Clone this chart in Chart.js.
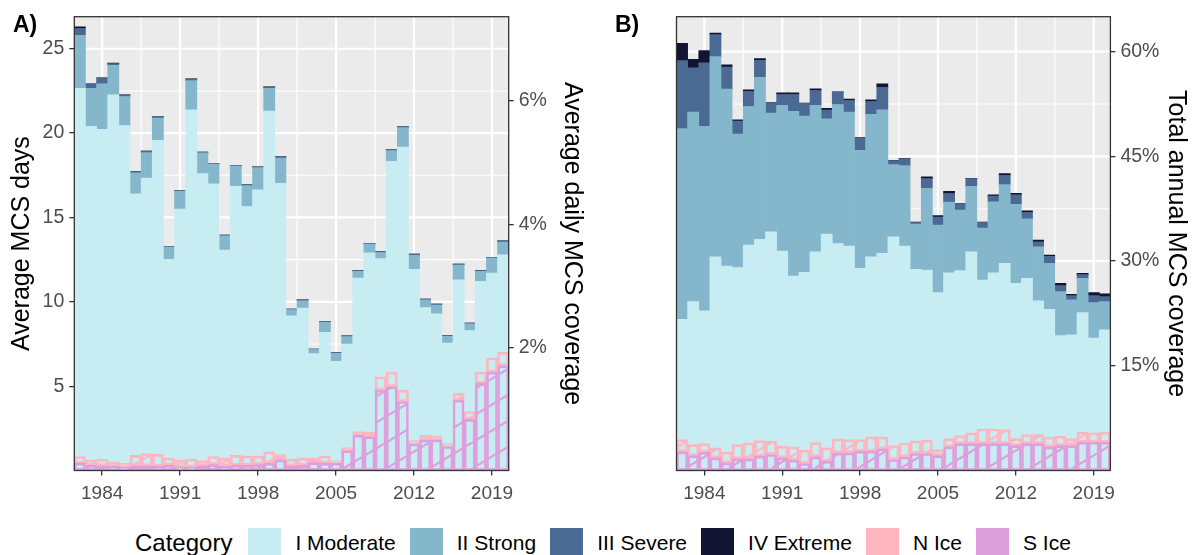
<!DOCTYPE html>
<html>
<head>
<meta charset="utf-8">
<script src="https://cdn.jsdelivr.net/npm/chart.js@4.4.0/dist/chart.umd.min.js"></script>
<style>
  body { margin:0; background:#fff; width:1193px; height:555px; overflow:hidden; position:relative;
         font-family:"Liberation Sans", Arial, sans-serif; }
  canvas { position:absolute; top:0; }
  #chartA { left:0; }
  #chartB { left:600px; }
  .tag { position:absolute; top:13px; font-weight:bold; font-size:23px; line-height:1; color:#000; }
  #legend { position:absolute; left:135px; top:528px; height:29px; display:flex; align-items:center; font-size:21px; color:#000; }
  #legend .ttl { font-size:24px; margin-right:16px; }
  #legend .key { width:33px; height:29px; margin-right:14px; }
  #legend .lab { margin-right:14px; }
</style>
</head>
<body>
<canvas id="chartA" width="600" height="500"></canvas>
<canvas id="chartB" width="593" height="500"></canvas>
<div class="tag" style="left:13px">A)</div>
<div class="tag" style="left:615px">B)</div>
<div id="legend"></div>
<script>
// ---- data ----
const years = [1982,1983,1984,1985,1986,1987,1988,1989,1990,1991,1992,1993,1994,1995,1996,1997,1998,1999,2000,
  2001,2002,2003,2004,2005,2006,2007,2008,2009,2010,2011,2012,2013,2014,2015,2016,2017,2018,2019,2020];
const tickYears = [1984, 1991, 1998, 2005, 2012, 2019];
const daysTicks = [5, 10, 15, 20, 25];
const coverTicksA = [2, 4, 6];
const pctTicksB = [15, 30, 45, 60];

// panel A: average MCS days
const moderateDays = [22.66,20.40,20.22,22.27,20.45,16.40,17.34,19.57,12.52,15.49,21.38,17.60,16.99,13.07,16.85,15.65,16.63,21.30,17.03,
  9.17,9.63,6.93,8.19,6.47,7.50,11.40,12.91,12.56,18.33,19.17,11.93,9.66,9.29,7.56,11.30,8.30,11.22,11.70,12.79];
const strongDays = [3.14,2.26,2.70,1.75,1.72,1.24,1.50,1.32,0.72,1.06,1.73,1.23,1.17,0.84,1.19,1.24,1.32,1.36,1.49,
  0.37,0.43,0.24,0.60,0.48,0.44,0.40,0.51,0.36,0.63,1.15,0.82,0.45,0.52,0.40,0.88,0.39,0.58,0.89,0.75];
const severeDays = [0.40,0.26,0.35,0.10,0.10,0.08,0.10,0.10,0.05,0.05,0.10,0.05,0.05,0.05,0.05,0.08,0.05,0.08,0.10,
  0.03,0.05,0.03,0.05,0.05,0.05,0.05,0.05,0.05,0.08,0.08,0.08,0.05,0.05,0.05,0.05,0.05,0.05,0.05,0.08];
const extremeDays = [0.10,0,0,0.03,0,0,0,0,0,0,0,0,0,0,0,0,0,0,0,
  0,0,0,0,0,0,0,0,0,0,0,0,0,0,0,0,0,0,0,0];
const sIceDays = [0.43,0.31,0.27,0.24,0.20,0.27,0.27,0.24,0.31,0.20,0.20,0.27,0.35,0.24,0.31,0.31,0.35,0.43,0.63,
  0.27,0.31,0.47,0.43,0.43,1.18,2.09,2.00,4.76,4.96,4.09,1.57,1.81,1.81,1.42,4.17,3.03,5.16,5.83,6.22];
const nIceDays = [0.40,0.32,0.40,0.27,0.23,0.63,0.73,0.72,0.43,0.43,0.47,0.32,0.48,0.49,0.59,0.55,0.50,0.67,0.31,
  0.40,0.42,0.26,0.43,0.14,0.18,0.21,0.28,0.79,0.87,0.67,0.20,0.28,0.24,0.19,0.40,0.47,0.67,0.84,0.78];

// panel B: total annual MCS coverage (%)
const moderatePct = [21.67,24.19,22.86,30.62,29.29,29.05,32.29,33.10,34.19,31.43,27.86,28.38,31.33,33.86,32.52,32.14,28.95,30.62,31.10,
  33.48,32.14,28.81,28.71,25.48,28.33,28.62,31.33,27.29,28.33,29.67,26.81,27.52,24.29,23.10,19.33,19.43,22.62,18.95,20.14];
const strongPct = [27.29,27.14,26.43,28.67,25.33,19.14,19.85,23.23,17.00,20.86,23.57,22.38,20.96,16.52,19.91,19.19,16.91,20.38,20.57,
  10.33,11.53,6.48,11.72,9.66,10.10,8.67,9.38,7.42,10.15,11.28,11.33,8.53,7.76,6.57,6.29,5.00,4.90,5.10,4.05];
const severePct = [9.74,6.34,9.09,3.14,3.18,1.86,2.15,2.43,1.47,1.57,2.43,1.81,2.14,1.24,1.76,1.67,1.76,1.86,3.23,
  0.57,0.99,0.23,1.38,1.15,1.24,0.90,1.10,0.81,0.81,1.34,1.34,0.90,0.71,1.00,0.86,0.62,0.53,1.00,0.71];
const extremePct = [2.50,1.23,1.76,0.24,0.30,0.19,0.23,0.24,0.05,0.24,0.24,0.05,0.24,0.24,0.05,0.19,0.05,0.24,0.48,
  0.05,0.05,0.05,0.24,0.23,0.33,0.05,0.05,0.05,0.19,0.23,0.23,0.24,0.24,0.19,0.33,0.19,0.19,0.43,0.39];
const sIcePct = [2.67,2.14,2.62,1.81,1.10,1.67,1.67,2.05,2.29,1.81,1.48,1.00,1.95,1.33,2.52,2.52,2.76,2.76,3.10,
  1.57,1.95,2.43,2.43,2.14,3.38,3.86,3.86,3.86,3.86,3.86,3.57,3.86,3.86,3.38,3.57,3.57,4.05,4.05,4.05];
const nIcePct = [1.76,1.57,1.24,1.43,1.52,2.04,2.28,2.24,1.90,1.67,1.90,1.90,2.05,1.91,2.00,1.91,1.67,2.05,1.71,
  2.00,2.00,1.81,1.90,0.86,1.19,1.14,1.52,2.09,2.09,2.00,1.00,1.28,1.28,1.38,1.33,1.00,1.43,1.33,1.43];

const categories = ["I Moderate", "II Strong", "III Severe", "IV Extreme", "N Ice", "S Ice"];
const catColors = ["#C7ECF2", "#85B7CC", "#4A6A94", "#111433", "#FFB6C1", "#DDA0DD"];

// ---- helpers ----
const tickGrey = "#4D4D4D";
const frame = "#333333";

// diagonal stripe fill like ggpattern
function stripes(color) {
  const w = 43, h = 26;
  const c = document.createElement("canvas");
  c.width = w; c.height = h;
  const g = c.getContext("2d");
  g.strokeStyle = color;
  g.lineWidth = 2.2;
  for (const dx of [-w, 0, w]) {
    g.beginPath();
    g.moveTo(dx, h);
    g.lineTo(dx + w, 0);
    g.stroke();
  }
  return g.createPattern(c, "repeat");
}

// grey panel, white major/minor grid, dark frame
const panelGrid = {
  id: "panelGrid",
  beforeDraw(chart, args, opts) {
    const { ctx, chartArea: a, scales } = chart;
    const xs = scales.x, ys = scales[opts.yId];
    ctx.save();
    ctx.fillStyle = "#EBEBEB";
    ctx.fillRect(a.left, a.top, a.width, a.height);
    ctx.strokeStyle = "#FFFFFF";
    const xMaj = tickYears.map(yr => xs.getPixelForValue(years.indexOf(yr)));
    const xMin = [];
    for (let i = 0; i < xMaj.length - 1; i++) xMin.push((xMaj[i] + xMaj[i + 1]) / 2);
    const step = opts.yMajor[1] - opts.yMajor[0];
    const yMin = opts.yMajor.map(v => v - step / 2).concat([opts.yMajor[opts.yMajor.length - 1] + step / 2])
      .filter(v => v > ys.min && v < ys.max);
    const vline = (p) => { ctx.beginPath(); ctx.moveTo(p, a.top); ctx.lineTo(p, a.bottom); ctx.stroke(); };
    const hline = (v) => { const p = ys.getPixelForValue(v); ctx.beginPath(); ctx.moveTo(a.left, p); ctx.lineTo(a.right, p); ctx.stroke(); };
    ctx.lineWidth = 1.1;
    xMin.forEach(vline);
    yMin.forEach(hline);
    ctx.lineWidth = 2.2;
    xMaj.forEach(vline);
    opts.yMajor.forEach(hline);
    ctx.restore();
  },
  afterDraw(chart) {
    const { ctx, chartArea: a } = chart;
    ctx.save();
    ctx.strokeStyle = frame;
    ctx.lineWidth = 1.3;
    ctx.strokeRect(a.left, a.top, a.width, a.height);
    ctx.restore();
  }
};

function barSets(mod, str, sev, ext, nIce, sIce) {
  const base = { grouped: false, barPercentage: 1, categoryPercentage: 1, borderWidth: 0 };
  return [
    Object.assign({ label: "S Ice", data: sIce, stack: "ice", order: 0, backgroundColor: stripes(catColors[5]),
      borderColor: catColors[5] }, base, { borderWidth: 2, borderSkipped: false }),
    Object.assign({ label: "N Ice", data: nIce, stack: "ice", order: 1, backgroundColor: stripes(catColors[4]),
      borderColor: catColors[4] }, base, { borderWidth: 2, borderSkipped: false }),
    Object.assign({ label: "I Moderate", data: mod, stack: "mcs", order: 2, backgroundColor: catColors[0] }, base),
    Object.assign({ label: "II Strong", data: str, stack: "mcs", order: 3, backgroundColor: catColors[1] }, base),
    Object.assign({ label: "III Severe", data: sev, stack: "mcs", order: 4, backgroundColor: catColors[2] }, base),
    Object.assign({ label: "IV Extreme", data: ext, stack: "mcs", order: 5, backgroundColor: catColors[3] }, base)
  ];
}

const xAxis = {
  type: "category",
  offset: true,
  grid: { offset: false, drawOnChartArea: false, color: frame, tickLength: 5, lineWidth: 1.3 },
  border: { display: false },
  ticks: {
    autoSkip: false, maxRotation: 0, minRotation: 0, color: tickGrey, font: { size: 19 }, padding: 7,
    callback: (v, i) => tickYears.includes(years[i]) ? String(years[i]) : null
  },
  afterFit: (s) => { s.height = 29.5; }
};

function yAxis(pos, max, step, list, suffix, title, titlePad, width, stacked) {
  return {
    type: "linear", position: pos, min: 0, max: max, stacked: stacked,
    grid: { drawOnChartArea: false, color: frame, tickLength: 5, lineWidth: 1.3 },
    border: { display: false },
    ticks: {
      stepSize: step, includeBounds: false, color: tickGrey, font: { size: 19.5 }, padding: 5,
      callback: (v) => list.includes(v) ? v + suffix : null
    },
    title: { display: true, text: title, color: "#000", font: { size: 25 }, padding: { top: titlePad, bottom: 0 } },
    afterFit: (s) => { s.width = width; }
  };
}

Chart.defaults.font.family = '"Liberation Sans", Arial, sans-serif';

const daysMax = 26.9;
new Chart(document.getElementById("chartA"), {
  type: "bar",
  data: { labels: years.map(String), datasets: barSets(moderateDays, strongDays, severeDays, extremeDays, nIceDays, sIceDays) },
  options: {
    responsive: false, animation: false, devicePixelRatio: 1,
    layout: { padding: { top: 16.5, left: 0, right: 0, bottom: 0 } },
    plugins: { legend: { display: false }, tooltip: { enabled: false }, panelGrid: { yId: "y", yMajor: daysTicks } },
    scales: {
      x: xAxis,
      y: yAxis("left", daysMax, 5, daysTicks, "", "Average MCS days", 7, 74.3, true),
      y2: yAxis("right", daysMax / 3.65, 2, coverTicksA, "%", "Average daily MCS coverage", 13, 91.3, false)
    }
  },
  plugins: [panelGrid]
});

new Chart(document.getElementById("chartB"), {
  type: "bar",
  data: { labels: years.map(String), datasets: barSets(moderatePct, strongPct, severePct, extremePct, nIcePct, sIcePct) },
  options: {
    responsive: false, animation: false, devicePixelRatio: 1,
    layout: { padding: { top: 16.5, left: 76.5, right: 0, bottom: 0 } },
    plugins: { legend: { display: false }, tooltip: { enabled: false }, panelGrid: { yId: "y", yMajor: pctTicksB } },
    scales: {
      x: xAxis,
      y: yAxis("right", 65, 15, pctTicksB, "%", "Total annual MCS coverage", 2, 82.6, true)
    }
  },
  plugins: [panelGrid]
});

// legend
const leg = document.getElementById("legend");
leg.innerHTML = '<span class="ttl">Category</span>' + categories.map((c, i) =>
  '<span class="key" style="background:' + catColors[i] + '"></span><span class="lab">' + c + '</span>').join("");
</script>
</body>
</html>
